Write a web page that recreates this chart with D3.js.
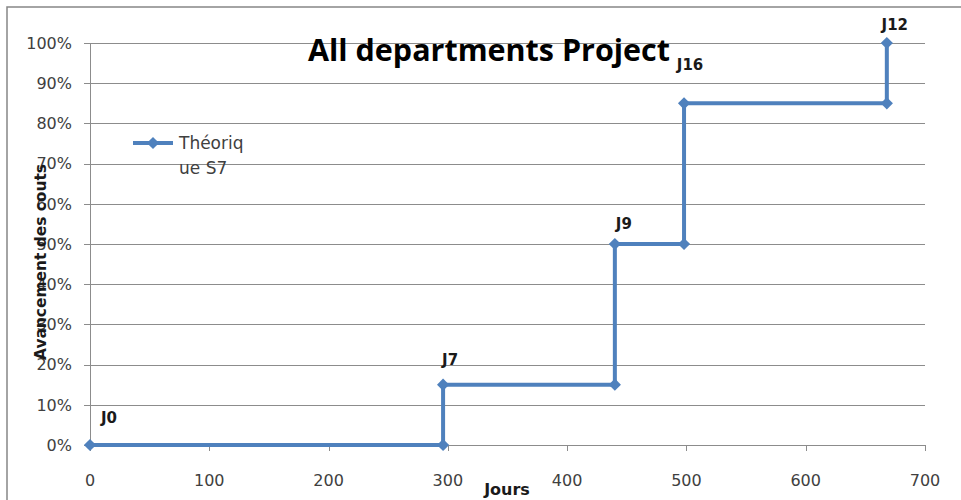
<!DOCTYPE html>
<html>
<head>
<meta charset="utf-8">
<script src="https://cdn.jsdelivr.net/npm/d3@7"></script>
<style>
  body { margin: 0; background: #fff; }
  svg { display: block; font-family: "DejaVu Sans", "Open Sans", sans-serif; }
</style>
</head>
<body>
<div id="chart"></div>
<script>
// chart values
var jours = [0, 296, 296, 440, 440, 498, 498, 668, 668];
var avancement = [0, 0, 0.15, 0.15, 0.50, 0.50, 0.85, 0.85, 1.00];
var pointLabels = ["J0", "", "J7", "", "J9", "", "J16", "", "J12"];
var xTicks = [0, 100, 200, 300, 400, 500, 600, 700];
var yTicks = [0, 0.1, 0.2, 0.3, 0.4, 0.5, 0.6, 0.7, 0.8, 0.9, 1.0];
var seriesName = ["Théoriq", "ue S7"];

var width = 961, height = 500;
var margin = {top: 43, right: 36, bottom: 54, left: 90};

var svg = d3.select("#chart").append("svg")
  .attr("width", width)
  .attr("height", height);

// outer chart border
svg.append("rect")
  .attr("x", 7).attr("y", 7)
  .attr("width", width + 20).attr("height", height + 20)
  .attr("fill", "none")
  .attr("stroke", "#868686")
  .attr("stroke-width", 1.5);

var x = d3.scaleLinear().domain([0, 700]).range([margin.left, width - margin.right]);
var y = d3.scaleLinear().domain([0, 1]).range([height - margin.bottom - 1, margin.top]);

// gridlines
svg.append("g")
  .selectAll("line")
  .data(yTicks)
  .enter().append("line")
  .attr("x1", margin.left - 6)
  .attr("x2", x(700))
  .attr("y1", function(d) { return Math.round(y(d)) + 0.5; })
  .attr("y2", function(d) { return Math.round(y(d)) + 0.5; })
  .attr("stroke", "#8c8c8c")
  .attr("stroke-width", 1);

// y axis line
svg.append("line")
  .attr("x1", margin.left + 0.5).attr("x2", margin.left + 0.5)
  .attr("y1", y(1)).attr("y2", y(0))
  .attr("stroke", "#8c8c8c");

// x ticks
svg.append("g")
  .selectAll("line")
  .data(xTicks)
  .enter().append("line")
  .attr("x1", function(d) { return Math.round(x(d)) + 0.5; })
  .attr("x2", function(d) { return Math.round(x(d)) + 0.5; })
  .attr("y1", y(0)).attr("y2", y(0) + 6)
  .attr("stroke", "#8c8c8c");

// y tick labels
svg.append("g")
  .selectAll("text")
  .data(yTicks)
  .enter().append("text")
  .attr("x", 72)
  .attr("y", function(d) { return y(d); })
  .attr("dy", "0.36em")
  .attr("text-anchor", "end")
  .attr("font-size", 16)
  .attr("fill", "#404040")
  .text(function(d) { return d3.format(".0%")(d); });

// x tick labels
svg.append("g")
  .selectAll("text")
  .data(xTicks)
  .enter().append("text")
  .attr("x", function(d) { return x(d); })
  .attr("y", 480)
  .attr("dy", "0.36em")
  .attr("text-anchor", "middle")
  .attr("font-size", 16)
  .attr("fill", "#404040")
  .text(function(d) { return d; });

// axis titles
svg.append("text")
  .attr("x", 507).attr("y", 489)
  .attr("dy", "0.36em")
  .attr("text-anchor", "middle")
  .attr("font-size", 16)
  .attr("font-weight", "bold")
  .attr("fill", "#1a1a1a")
  .text("Jours");

svg.append("text")
  .attr("transform", "translate(40,262) rotate(-90)")
  .attr("dy", "0.36em")
  .attr("text-anchor", "middle")
  .attr("font-size", 16)
  .attr("font-weight", "bold")
  .attr("fill", "#1a1a1a")
  .attr("textLength", 196)
  .attr("lengthAdjust", "spacingAndGlyphs")
  .text("Avancement des couts");

// title
svg.append("text")
  .attr("x", 308).attr("y", 61)
  .attr("font-family", "'Open Sans', sans-serif")
  .attr("font-size", 31)
  .attr("font-weight", "bold")
  .attr("fill", "#000")
  .attr("textLength", 362)
  .attr("lengthAdjust", "spacingAndGlyphs")
  .text("All departments Project");

// series line
var data = jours.map(function(d, i) { return {x: d, y: avancement[i], label: pointLabels[i]}; });
var color = "#4f81bd";

var line = d3.line()
  .x(function(d) { return x(d.x); })
  .y(function(d) { return y(d.y); });

svg.append("path")
  .datum(data)
  .attr("d", line)
  .attr("fill", "none")
  .attr("stroke", color)
  .attr("stroke-width", 4)
  .attr("stroke-linejoin", "miter");

var diamond = d3.symbol().type(d3.symbolDiamond2).size(95);

svg.append("g")
  .selectAll("path")
  .data(data)
  .enter().append("path")
  .attr("d", diamond)
  .attr("transform", function(d) { return "translate(" + x(d.x) + "," + y(d.y) + ")"; })
  .attr("fill", color);

// data labels (offsets as placed in the original)
var labelOffset = {J0: [19, -27], J7: [7, -25], J9: [9, -20], J16: [6, -39], J12: [8, -18]};
svg.append("g")
  .selectAll("text")
  .data(data.filter(function(d) { return d.label; }))
  .enter().append("text")
  .attr("x", function(d) { return x(d.x) + labelOffset[d.label][0]; })
  .attr("y", function(d) { return y(d.y) + labelOffset[d.label][1]; })
  .attr("dy", "0.36em")
  .attr("text-anchor", "middle")
  .attr("font-size", 15)
  .attr("font-weight", "bold")
  .attr("fill", "#1a1a1a")
  .text(function(d) { return d.label; });

// legend
var legend = svg.append("g");
legend.append("line")
  .attr("x1", 133).attr("x2", 173)
  .attr("y1", 143).attr("y2", 143)
  .attr("stroke", color).attr("stroke-width", 4);
legend.append("path")
  .attr("d", diamond)
  .attr("transform", "translate(153,143)")
  .attr("fill", color);
legend.selectAll("text")
  .data(seriesName)
  .enter().append("text")
  .attr("x", 179)
  .attr("y", function(d, i) { return 143 + i * 25; })
  .attr("dy", "0.36em")
  .attr("font-size", 17)
  .attr("fill", "#404040")
  .text(function(d) { return d; });
</script>
</body>
</html>
